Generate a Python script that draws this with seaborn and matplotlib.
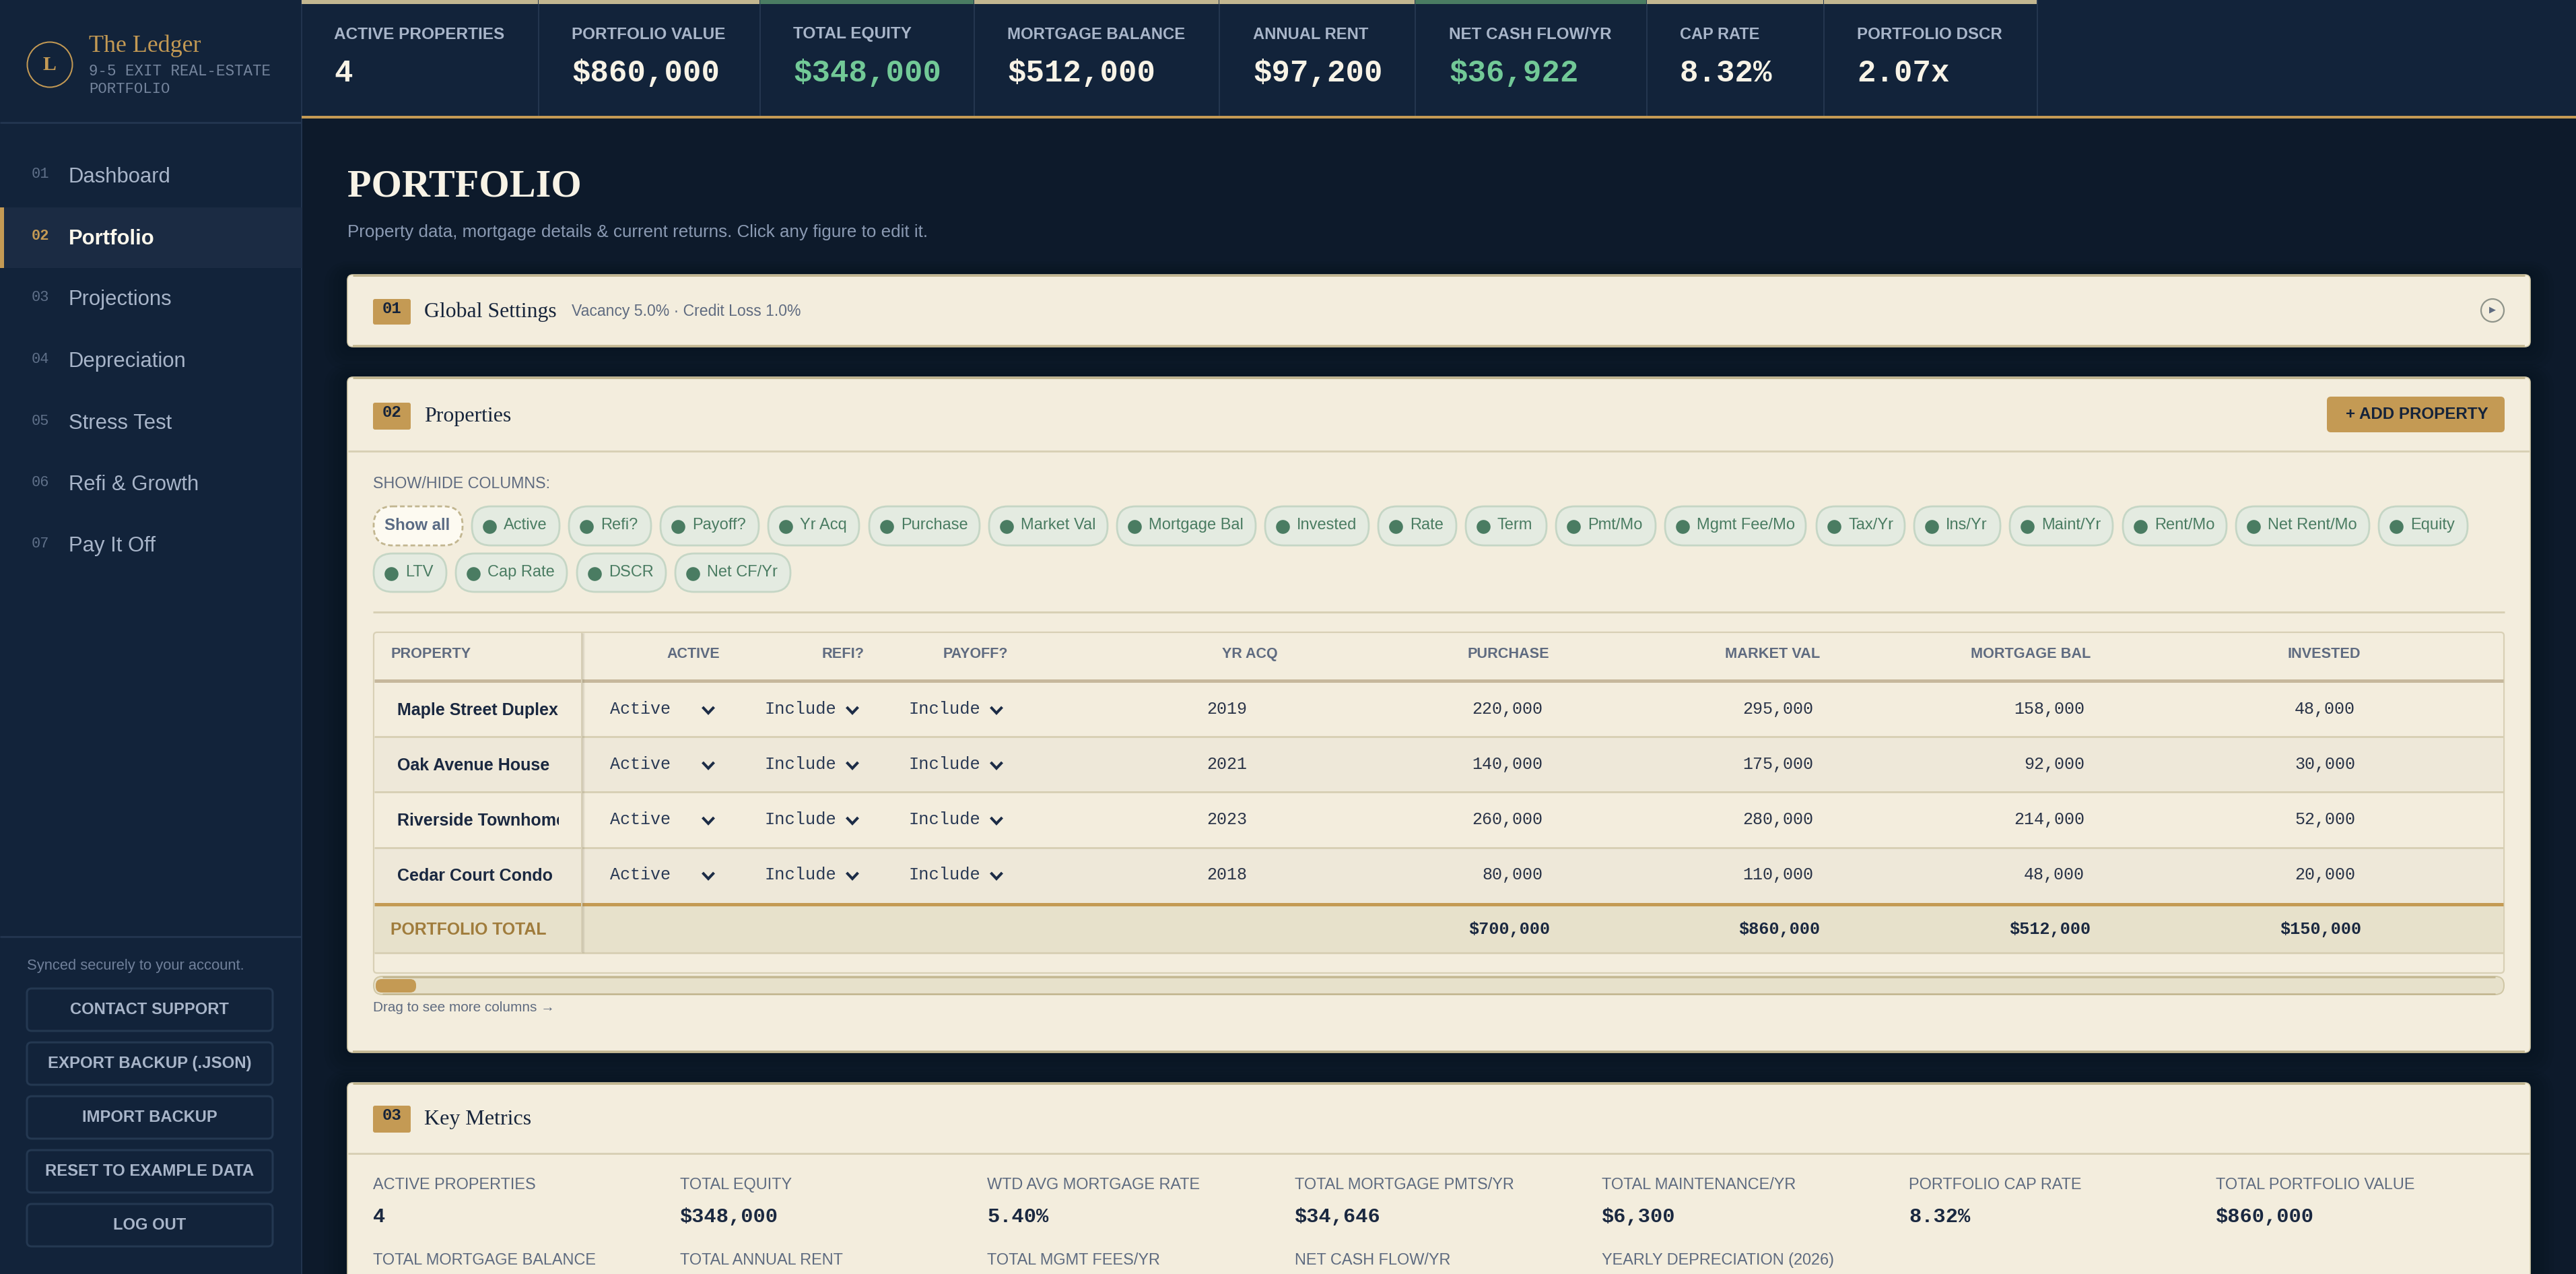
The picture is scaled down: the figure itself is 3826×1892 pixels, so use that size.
import matplotlib
matplotlib.use("Agg")
import matplotlib.pyplot as plt
from matplotlib.patches import FancyBboxPatch, Rectangle, Circle
from matplotlib.colors import ListedColormap
import numpy as np
import pandas as pd
import seaborn as sns

# ---------- data ----------
KPI_LABELS = ["ACTIVE PROPERTIES", "PORTFOLIO VALUE", "TOTAL EQUITY", "MORTGAGE BALANCE",
              "ANNUAL RENT", "NET CASH FLOW/YR", "CAP RATE", "PORTFOLIO DSCR"]
KPI_VALUES = ["4", "$860,000", "$348,000", "$512,000", "$97,200", "$36,922", "8.32%", "2.07x"]
KPI_GOOD = [False, False, True, False, False, True, False, False]
NAV_ITEMS = ["Dashboard", "Portfolio", "Projections", "Depreciation", "Stress Test", "Refi & Growth", "Pay It Off"]
SIDE_BUTTONS = ["CONTACT SUPPORT", "EXPORT BACKUP (.JSON)", "IMPORT BACKUP", "RESET TO EXAMPLE DATA", "LOG OUT"]
CHIPS_ROW1 = ["Active", "Refi?", "Payoff?", "Yr Acq", "Purchase", "Market Val", "Mortgage Bal", "Invested",
              "Rate", "Term", "Pmt/Mo", "Mgmt Fee/Mo", "Tax/Yr", "Ins/Yr", "Maint/Yr", "Rent/Mo", "Net Rent/Mo", "Equity"]
CHIPS_ROW2 = ["LTV", "Cap Rate", "DSCR", "Net CF/Yr"]
PROPERTIES = ["Maple Street Duplex", "Oak Avenue House", "Riverside Townhome", "Cedar Court Condo"]
YR_ACQ = [2019, 2021, 2023, 2018]
PURCHASE = [220000, 140000, 260000, 80000]
MARKET_VAL = [295000, 175000, 280000, 110000]
MORTGAGE_BAL = [158000, 92000, 214000, 48000]
INVESTED = [48000, 30000, 52000, 20000]
TOTALS = [700000, 860000, 512000, 150000]
METRIC_LABELS = ["ACTIVE PROPERTIES", "TOTAL EQUITY", "WTD AVG MORTGAGE RATE", "TOTAL MORTGAGE PMTS/YR",
                 "TOTAL MAINTENANCE/YR", "PORTFOLIO CAP RATE", "TOTAL PORTFOLIO VALUE"]
METRIC_VALUES = ["4", "$348,000", "5.40%", "$34,646", "$6,300", "8.32%", "$860,000"]
METRIC_LABELS2 = ["TOTAL MORTGAGE BALANCE", "TOTAL ANNUAL RENT", "TOTAL MGMT FEES/YR", "NET CASH FLOW/YR",
                  "YEARLY DEPRECIATION (2026)"]

# ---------- layout (pixels) ----------
W, H, DPI = 3826, 1892, 100
SANS, SERIF, MONO = "Liberation Sans", "Liberation Serif", "Liberation Mono"
NAVY, MAIN, CREAM = "#12233a", "#0d1a2b", "#f3eddd"
GOLD, TAN, GREEN = "#c49a54", "#c2b690", "#4a7c62"
KPI_EDGES = [448, 800, 1129, 1447, 1811, 2102, 2446, 2709, 3026]
KPI_TX = [496, 849, 1178, 1496, 1861, 2152, 2495, 2758]
KPI_W = [253, 229, 176, 264, 171, 242, 119, 216]
NAV_Y = [263, 355, 445, 537, 629, 720, 811]
BTN_Y = [1468, 1548, 1628, 1708, 1788]
BTN_W = [236, 302, 201, 310, 108]
CHIP1_X = [(701, 831), (845, 967), (981, 1127), (1141, 1276), (1291, 1455), (1469, 1645), (1659, 1865), (1879, 2033),
           (2047, 2163), (2177, 2297), (2311, 2459), (2473, 2682), (2698, 2829), (2843, 2971), (2985, 3138),
           (3153, 3307), (3321, 3519), (3533, 3665)]
CHIP2_X = [(555, 663), (677, 842), (857, 989), (1003, 1174)]
ROW_Y = [1055, 1137, 1219, 1301]
ROW_LINES = [1094, 1176, 1259]
METRIC_X = [554, 1010, 1466, 1923, 2379, 2835, 3291]

sns.set_theme(style="white")
plt.rcParams["font.family"] = [SANS, "DejaVu Sans"]
plt.rcParams["text.antialiased"] = True

fig = plt.figure(figsize=(W / DPI, H / DPI), dpi=DPI, facecolor=MAIN)


def px_axes(z):
    a = fig.add_axes([0, 0, 1, 1], zorder=z)
    a.set_xlim(0, W)
    a.set_ylim(H, 0)
    a.axis("off")
    a.patch.set_alpha(0)
    return a


bg = px_axes(0)
ax = px_axes(2)
renderer = fig.canvas.get_renderer()


def T(x, y, s, px=None, w=None, fam=SANS, c="#000000", bold=False, ha="left", a=None, va="center"):
    a = a or ax
    t = a.text(x, y, s, fontsize=(px or 24) * 72 / DPI, family=[fam, "DejaVu Sans"], color=c,
               fontweight="bold" if bold else "normal", ha=ha, va=va, zorder=10)
    if w is not None:
        cur = t.get_window_extent(renderer).width
        t.set_fontsize(t.get_fontsize() * w / cur)
    return t


def R(a, x0, y0, x1, y1, fc, ec="none", lw=0, z=1, r=0, ls="-", alpha=None):
    if r:
        p = FancyBboxPatch((x0, y0), x1 - x0, y1 - y0, boxstyle=f"round,pad=0,rounding_size={r}",
                           fc=fc, ec=ec, lw=lw, zorder=z, ls=ls, mutation_aspect=1, alpha=alpha)
    else:
        p = Rectangle((x0, y0), x1 - x0, y1 - y0, fc=fc, ec=ec, lw=lw, zorder=z, alpha=alpha)
    a.add_patch(p)
    return p


def L(a, x0, y0, x1, y1, c, px, z=2, alpha=None):
    a.plot([x0, x1], [y0, y1], color=c, lw=px * 72 / DPI, solid_capstyle="butt", zorder=z, alpha=alpha)


# ---------- background ----------
R(bg, 0, 0, W, H, MAIN)
R(bg, 0, 0, 448, H, NAVY, z=2)
L(bg, 448, 0, 448, H, "#22344e", 2, z=3)
L(bg, 0, 182, 448, 182, "#22344e", 3, z=3)
L(bg, 0, 1391, 448, 1391, "#22344e", 3, z=3)

# ---------- sidebar ----------
bg.add_patch(Circle((74, 96), 33.5, fc="none", ec=GOLD, lw=2 * 72 / DPI, zorder=4))
T(74, 96, "L", 30, fam=SERIF, c=GOLD, bold=True, ha="center")
T(132, 68, "The Ledger", w=167, fam=SERIF, c=GOLD)
T(132, 106, "9-5 EXIT REAL-ESTATE", w=270, fam=MONO, c="#75859d")
T(132, 132, "PORTFOLIO", w=120, fam=MONO, c="#75859d")
R(bg, 0, 308, 448, 398, "#1b2b43", z=3)
R(bg, 0, 308, 6, 398, GOLD, z=4)
for i, (name, y) in enumerate(zip(NAV_ITEMS, NAV_Y)):
    active = i == 1
    T(47, y - 4, f"{i + 1:02d}", 22, fam=MONO, c=GOLD if active else "#5f7089", bold=active)
    T(102, y, name, 31, c="#fbf7ec" if active else "#a8b5c9", bold=active)
T(40, 1434, "Synced securely to your account.", w=323, c="#70809a")
for name, y, w in zip(SIDE_BUTTONS, BTN_Y, BTN_W):
    R(bg, 40, y, 405, y + 63, NAVY, ec="#243851", lw=2.2, z=4, r=7)
    T(222, y + 31, name, w=w, c="#a8b5c9", bold=True, ha="center")

# ---------- KPI strip ----------
R(bg, 448, 0, W, 172, NAVY, z=2)
for i in range(8):
    x0, x1 = KPI_EDGES[i], KPI_EDGES[i + 1]
    R(bg, x0, 0, x1 - 1, 6, GREEN if KPI_GOOD[i] else TAN, z=3)
    L(bg, x1, 0, x1, 172, "#24364f", 2, z=3)
    T(KPI_TX[i], 51, KPI_LABELS[i], w=KPI_W[i], c="#a8b5c9", bold=True)
    T(KPI_TX[i], 109, KPI_VALUES[i], 45.8, fam=MONO, c="#72c997" if KPI_GOOD[i] else "#f8f3e6", bold=True)
R(bg, 448, 172, W, 176, GOLD, z=3)

# ---------- page title ----------
T(516, 277, "PORTFOLIO", w=347, fam=SERIF, c="#f8f3e6", bold=True)
T(516, 345, "Property data, mortgage details & current returns. Click any figure to edit it.", w=860, c="#8b9ab3")

# ---------- panels ----------
for y0, y1 in [(408, 515), (560, 1563), (1608, H + 30)]:
    for k in range(1, 6):
        R(bg, 516 - 7 * k, y0 - 4 * k, 3758 + 7 * k, y1 + 7 * k, "#060e18", z=1.5, r=10 + 6 * k, alpha=0.07)
for y0, y1 in [(408, 515), (560, 1563), (1608, H + 30)]:
    R(bg, 516, y0, 3758, y1, CREAM, ec="#d8cfae", lw=1.2, z=2, r=8)
    L(bg, 524, y0 + 1, 3750, y0 + 1, TAN, 3, z=3)
    if y1 < H:
        L(bg, 524, y1 - 1, 3750, y1 - 1, TAN, 3.5, z=3)
L(bg, 517, 670, 3757, 670, "#d8d0b5", 3, z=3)
L(bg, 517, 1713, 3757, 1713, "#d8d0b5", 3, z=3)
for y0, y1, num, title, w in [(444, 482, "01", "Global Settings", 197), (598, 638, "02", "Properties", 129),
                              (1642, 1682, "03", "Key Metrics", 159)]:
    R(bg, 554, y0, 610, y1, GOLD, z=3, r=3)
    T(582, y0 + 14, num, 24, fam=MONO, c="#15233a", bold=True, ha="center")
    T(630, (y0 + y1) / 2, title, w=w, fam=SERIF, c="#17253b")
T(849, 462, "Vacancy 5.0% · Credit Loss 1.0%", w=340, c="#5f6b80")
bg.add_patch(Circle((3702, 461), 17, fc=CREAM, ec="#8f948a", lw=1.6, zorder=4))
T(3702, 460, "▶", 13, c="#5f6b80", ha="center")
R(bg, 3456, 589, 3720, 642, GOLD, z=3, r=6)
T(3590, 615, "+ ADD PROPERTY", w=212, c="#15233a", bold=True, ha="center")

# ---------- chips ----------
T(554, 718, "SHOW/HIDE COLUMNS:", w=263, c="#5f6b80")
R(bg, 555, 752, 687, 810, "#fdfaf1", ec=TAN, lw=2, z=3, r=28, ls=(0, (2.5, 1.5)))
T(620, 780, "Show all", 24, c="#5a6b84", bold=True, ha="center")
dot_x, dot_y = [], []
for names, edges, (y0, y1) in [(CHIPS_ROW1, CHIP1_X, (752, 810)), (CHIPS_ROW2, CHIP2_X, (822, 879))]:
    for name, (x0, x1) in zip(names, edges):
        R(bg, x0, y0, x1, y1, "#e4ebe1", ec="#c5d6c5", lw=2, z=3, r=28)
        T(x0 + 47, (y0 + y1) / 2 - 1, name, 23.6, c=GREEN)
        dot_x.append(x0 + 26)
        dot_y.append((y0 + y1) / 2 + 1)
sns.scatterplot(x=dot_x, y=dot_y, ax=ax, color=GREEN, s=220, linewidth=0, legend=False, zorder=6)
L(bg, 554, 909, 3720, 909, "#d8d0b5", 3, z=3)

# ---------- table ----------
R(bg, 555, 939, 3719, 1445, CREAM, ec="#d8d0b5", lw=1.6, z=3, r=5)
stripe = pd.DataFrame({"row": [0, 1, 0, 1]}, index=PROPERTIES)
hm = fig.add_axes([556 / W, 1 - 1341 / H, (3718 - 556) / W, (1341 - 1013) / H], zorder=1)
sns.heatmap(stripe, ax=hm, cmap=ListedColormap([CREAM, "#eee8d9"]), cbar=False, xticklabels=False, yticklabels=False)
hm.set_xlabel("")
hm.set_ylabel("")
R(ax, 556, 1346, 3718, 1415, "#e7e1cb", z=1)
L(ax, 556, 1010.5, 3718, 1010.5, "#c6b89c", 5)
L(ax, 556, 1343, 3718, 1343, GOLD, 5)
L(ax, 556, 1415, 3718, 1415, "#d8d0b5", 3)
for y in ROW_LINES:
    L(ax, 556, y, 3718, y, "#d8d0b5", 3)
for k, alpha in enumerate([0.30, 0.22, 0.14, 0.07]):
    L(ax, 865 + k, 940, 865 + k, 1415, "#8c8468", 1, z=3, alpha=alpha)
L(ax, 863.5, 940, 863.5, 1415, "#d6ceb5", 2, z=3)

HEAD = "#5f6b80"
T(580, 971, "PROPERTY", w=119, c=HEAD, bold=True)
for label, right, w in [("ACTIVE", 1069, 79), ("REFI?", 1283, 63), ("PAYOFF?", 1497, 97), ("YR ACQ", 1898, 83),
                        ("PURCHASE", 2301, 122), ("MARKET VAL", 2703, 141), ("MORTGAGE BAL", 3105, 178),
                        ("INVESTED", 3506, 108)]:
    T(right, 971, label, w=w, c=HEAD, bold=True, ha="right")

probe = T(0, 0, PROPERTIES[0], w=239, c="#1a2840", bold=True)
name_pt = probe.get_fontsize()
probe.remove()
clip = Rectangle((556, 1000), 274, 340, transform=ax.transData)
for i, y in enumerate(ROW_Y):
    t = T(590, y, PROPERTIES[i], name_pt * DPI / 72, c="#1a2840", bold=True)
    t.set_clip_path(clip)
    t.set_clip_on(True)
    T(906, y - 2, "Active", 25, fam=MONO, c="#2a3a55")
    T(1135, y - 2, "Include", 25.4, fam=MONO, c="#2a3a55")
    T(1349, y - 2, "Include", 25.4, fam=MONO, c="#2a3a55")
    for cx in (1052, 1266, 1480):
        ax.plot([cx - 8.5, cx, cx + 8.5], [y - 5, y + 4, y - 5], color="#1c2c46", lw=2.9, zorder=8,
                solid_joinstyle="miter", solid_capstyle="butt")
    for right, vals, txt in [(1852, YR_ACQ, None), (2291, PURCHASE, 1), (2693, MARKET_VAL, 1),
                             (3096, MORTGAGE_BAL, 1), (3498, INVESTED, 1)]:
        s = f"{vals[i]:,}" if txt else str(vals[i])
        T(right, y - 2, s, 25, fam=MONO, c="#2a3448", ha="right")
T(580, 1381, "PORTFOLIO TOTAL", w=233, c="#a07c3c", bold=True)
for right, v in zip([2302, 2703, 3105, 3507], TOTALS):
    T(right, 1380, f"${v:,}", 25.2, fam=MONO, c="#1a2840", bold=True, ha="right")

R(ax, 555, 1450, 3719, 1477, "#e7e1cb", ec="#cfc6a4", lw=1.4, z=2, r=13)
L(ax, 568, 1451, 3706, 1451, TAN, 2.5, z=2.5)
L(ax, 568, 1476, 3706, 1476, TAN, 2.5, z=2.5)
R(ax, 558, 1454, 618, 1474, GOLD, z=3, r=9)
T(554, 1496, "Drag to see more columns →", w=269, c="#5f6b80")

# ---------- key metrics ----------
for x, lab, val in zip(METRIC_X, METRIC_LABELS, METRIC_VALUES):
    T(x, 1759, lab, 23.5, c="#5e6b80")
    T(x, 1807, val, 30.4, fam=MONO, c="#1a2840", bold=True)
for x, lab in zip(METRIC_X, METRIC_LABELS2):
    T(x, 1871, lab, 23.5, c="#5e6b80")

ax.set_xlim(0, W)
ax.set_ylim(H, 0)
ax.axis("off")
fig.savefig("out.png", dpi=DPI, facecolor=MAIN)
